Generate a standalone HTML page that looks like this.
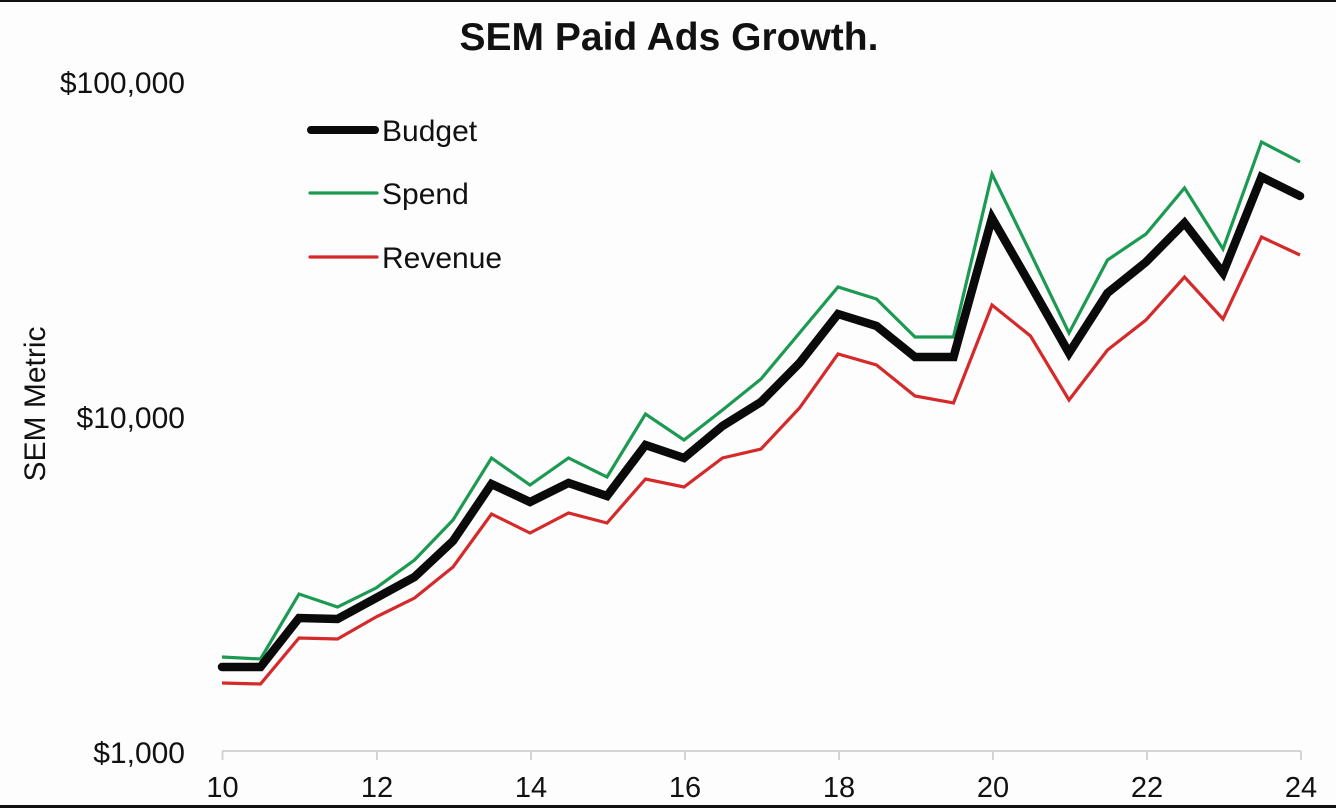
<!DOCTYPE html>
<html>
<head>
<meta charset="utf-8">
<style>
  html, body { margin: 0; padding: 0; background: #fff; }
  body { width: 1336px; height: 808px; overflow: hidden; }
  svg { display: block; }
  text { font-family: "Liberation Sans", Arial, sans-serif; fill: #111; }
</style>
</head>
<body>
<svg width="1336" height="808" viewBox="0 0 1336 808" xmlns="http://www.w3.org/2000/svg">
  <rect x="0" y="0" width="1336" height="808" fill="#fdfdfd"/>
  <!-- frame lines -->
  <rect x="0" y="0" width="1336" height="2" fill="#111"/>
  <rect x="0" y="805" width="1336" height="3" fill="#111"/>

  <!-- title -->
  <text x="669" y="50" font-size="39" font-weight="bold" text-anchor="middle">SEM Paid Ads Growth.</text>

  <!-- y tick labels -->
  <text x="185" y="93" font-size="30" text-anchor="end">$100,000</text>
  <text x="185" y="428" font-size="30" text-anchor="end">$10,000</text>
  <text x="185" y="763" font-size="30" text-anchor="end">$1,000</text>

  <!-- y axis label -->
  <text transform="translate(45,404) rotate(-90)" font-size="30" text-anchor="middle">SEM Metric</text>

  <!-- x axis -->
  <line x1="222" y1="751" x2="1301" y2="751" stroke="#d4d4d4" stroke-width="2"/>
  <g stroke="#d4d4d4" stroke-width="2">
    <line x1="222.5" y1="751" x2="222.5" y2="760"/>
    <line x1="377" y1="751" x2="377" y2="760"/>
    <line x1="531" y1="751" x2="531" y2="760"/>
    <line x1="685" y1="751" x2="685" y2="760"/>
    <line x1="839" y1="751" x2="839" y2="760"/>
    <line x1="993" y1="751" x2="993" y2="760"/>
    <line x1="1147" y1="751" x2="1147" y2="760"/>
    <line x1="1301" y1="751" x2="1301" y2="760"/>
  </g>
  <g font-size="29" text-anchor="middle">
    <text x="222.5" y="797">10</text>
    <text x="377" y="797">12</text>
    <text x="531" y="797">14</text>
    <text x="685" y="797">16</text>
    <text x="839" y="797">18</text>
    <text x="993" y="797">20</text>
    <text x="1147" y="797">22</text>
    <text x="1301" y="797">24</text>
  </g>

  <!-- series -->
  <polyline fill="none" stroke="#1c9a52" stroke-width="3.2" stroke-linejoin="miter" stroke-linecap="butt"
    points="222,657 260.5,659 299,594 337.5,607 376,588 414.5,560 453,520 491.5,458 530,485 568.5,458 607,477 645.5,414 684,440 722.5,410 761,379 799.5,333 838,287 876.5,299 915,337 953.5,337 992,174 1030.5,253 1069,333 1107.5,260 1146,234 1184.5,188 1223,249 1261.5,142 1300,162"/>
  <polyline fill="none" stroke="#d42a2a" stroke-width="3.2" stroke-linejoin="miter" stroke-linecap="butt"
    points="222,683 260.5,684 299,638 337.5,639 376,617 414.5,598 453,567 491.5,514 530,533 568.5,513 607,523 645.5,479 684,487 722.5,458 761,449 799.5,408 838,354 876.5,365 915,396 953.5,403 992,305 1030.5,336 1069,400 1107.5,350 1146,320 1184.5,277 1223,319 1261.5,237 1300,255"/>
  <polyline fill="none" stroke="#0a0a0a" stroke-width="8.5" stroke-linejoin="miter" stroke-linecap="round"
    points="222,667 260.5,667 299,618 337.5,619 376,598 414.5,577 453,541 491.5,484 530,502 568.5,483 607,496 645.5,445 684,458 722.5,426 761,402 799.5,363 838,314 876.5,326 915,357 953.5,357 992,218 1030.5,285 1069,353 1107.5,293 1146,262 1184.5,223 1223,273 1261.5,177 1300,196"/>

  <!-- legend -->
  <line x1="311" y1="130" x2="375" y2="130" stroke="#0a0a0a" stroke-width="8" stroke-linecap="round"/>
  <line x1="310" y1="193" x2="377" y2="193" stroke="#1c9a52" stroke-width="3.2" stroke-linecap="round"/>
  <line x1="310" y1="257" x2="377" y2="257" stroke="#d42a2a" stroke-width="3.2" stroke-linecap="round"/>
  <g font-size="30">
    <text x="382" y="141">Budget</text>
    <text x="382" y="204">Spend</text>
    <text x="382" y="268">Revenue</text>
  </g>
</svg>
</body>
</html>
